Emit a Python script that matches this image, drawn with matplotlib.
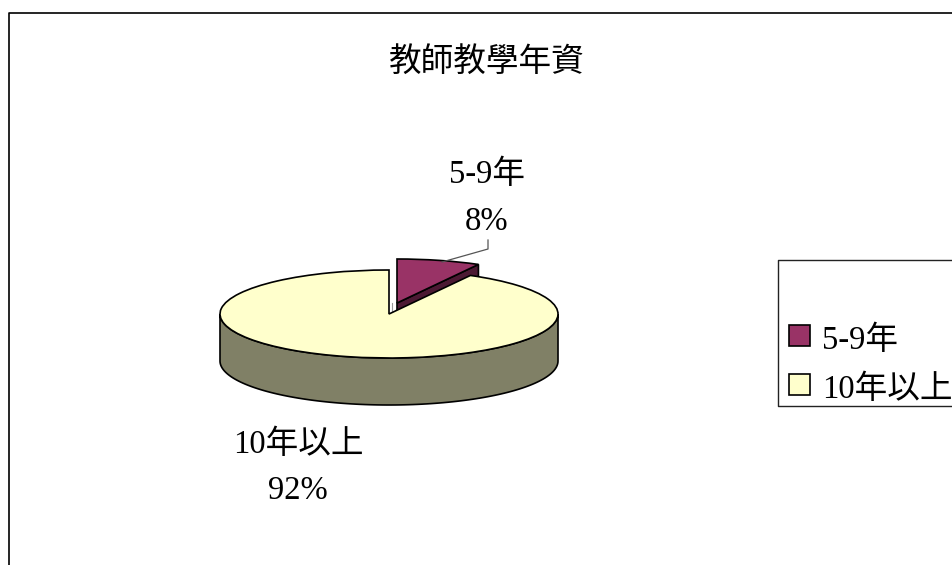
import numpy as np
import matplotlib
matplotlib.use("Agg")
import matplotlib.pyplot as plt
from matplotlib.patches import Polygon, Rectangle
from matplotlib.transforms import Affine2D

plt.rcParams['font.family'] = ['Liberation Serif', 'Noto Sans CJK TC']

title = "教師教學年資"
categories = ["5-9年", "10年以上"]
shares = [8, 92]
top_colors = ["#993366", "#FFFFCC"]
side_colors = ["#4C1933", "#808066"]

W, H = 953, 565
fig = plt.figure(figsize=(W / 100, H / 100), dpi=100)
ax = fig.add_axes([0, 0, 1, 1])
ax.set_xlim(0, W)
ax.set_ylim(H, 0)
ax.axis("off")

# chart frame, runs off the right and bottom of the picture
ax.plot([9.5, 9.5, W], [H, 12.5, 12.5], color="black", lw=1.2, zorder=1)

rx, ry, depth = 169, 44, 47
main_c = (389, 314)
slice_c = (397, 303)
tip = np.radians(shares[0] / sum(shares) * 360)


def flat(c):
    # y axis is inverted, so flip the pie back while squashing it
    return Affine2D().scale(1, -ry / rx).translate(*c) + ax.transData


wedges, _ = ax.pie(shares, startangle=90, counterclock=False, radius=rx,
                   colors=top_colors, wedgeprops=dict(edgecolor="black", linewidth=1.2),
                   frame=False, normalize=True)
ax.set_aspect("auto")
ax.set_xlim(0, W)
ax.set_ylim(H, 0)
ax.axis("off")

# side wall of the pulled out slice, the big slice hides most of it
tx, ty = slice_c[0] + rx * np.sin(tip), slice_c[1] - ry * np.cos(tip)
ax.add_patch(Polygon([slice_c, (tx, ty), (tx, ty + depth), (slice_c[0], slice_c[1] + depth)],
                     closed=True, fc=side_colors[0], ec="black", lw=1.2, zorder=2))
wedges[0].set_transform(flat(slice_c))
wedges[0].set_zorder(3)

# small grey line in the gap
ax.plot([392.5, 392.5], [303, 312], color="#999999", lw=0.8, zorder=3)

# side wall of the big slice (front half of the ellipse)
t = np.linspace(np.pi, 0, 120)
front = np.column_stack([main_c[0] + rx * np.cos(t), main_c[1] + ry * np.sin(t)])
wall = np.vstack([front, (front + [0, depth])[::-1]])
ax.add_patch(Polygon(wall, closed=True, fc=side_colors[1], ec="black", lw=1.2, zorder=4))
wedges[1].set_transform(flat(main_c))
wedges[1].set_zorder(5)

# leader line
ax.plot([442, 488, 488], [262, 249, 240], color="#555555", lw=0.9, zorder=6)

fs = 23.5
ax.text(487, 62, title, fontsize=fs, ha="center", va="center", zorder=7)
ax.text(487, 175, categories[0], fontsize=fs, ha="center", va="center", zorder=7)
ax.text(487, 222, f"{shares[0]}%", fontsize=fs, ha="center", va="center", zorder=7)
ax.text(298, 445, categories[1], fontsize=fs, ha="center", va="center", zorder=7)
ax.text(298, 491, f"{shares[1]}%", fontsize=fs, ha="center", va="center", zorder=7)

# legend box, its right side is cut by the picture edge
ax.plot([W, 778.5, 778.5, W], [259.5, 259.5, 405.5, 405.5], color="#222222", lw=1, zorder=7)
for name, color, y in zip(categories, top_colors, [325, 374]):
    ax.add_patch(Rectangle((789.5, y), 21, 21, fc=color, ec="black", lw=1.2, zorder=7))
    ax.text(822, y + 16, name, fontsize=fs, ha="left", va="center", zorder=7)

fig.savefig("out.png", dpi=100, facecolor="white")
